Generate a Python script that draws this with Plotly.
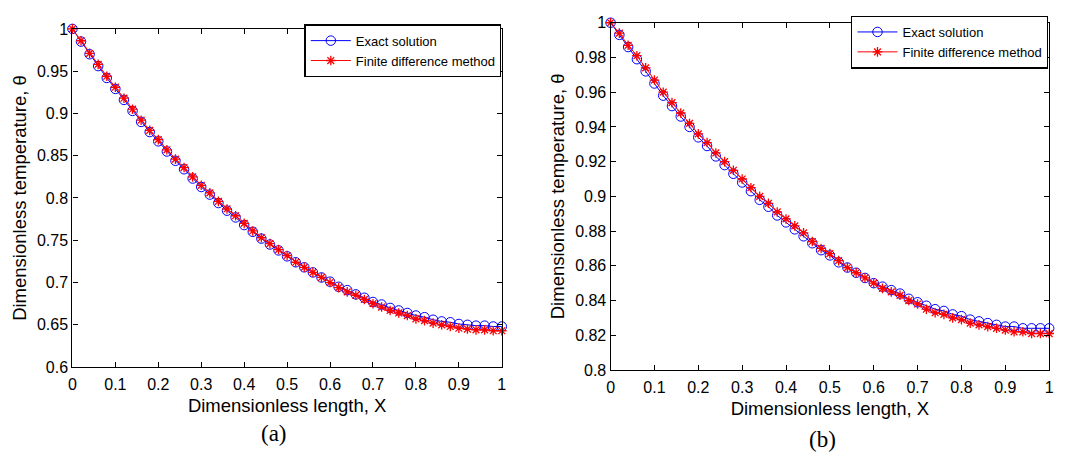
import plotly.graph_objects as go

# ---------------- data ----------------
x_vals = [round(i * 0.02, 2) for i in range(51)]

exact_a = [1.000, 0.985, 0.970, 0.956, 0.942, 0.929, 0.916, 0.903, 0.890, 0.878,
           0.867, 0.855, 0.844, 0.834, 0.823, 0.813, 0.804, 0.794, 0.785, 0.777,
           0.768, 0.760, 0.752, 0.745, 0.738, 0.731, 0.724, 0.718, 0.712, 0.706,
           0.701, 0.695, 0.691, 0.686, 0.682, 0.677, 0.674, 0.670, 0.667, 0.664,
           0.661, 0.659, 0.656, 0.654, 0.653, 0.651, 0.650, 0.649, 0.649, 0.648,
           0.648]
fdm_a = [1.000, 0.986, 0.971, 0.958, 0.944, 0.931, 0.918, 0.905, 0.892, 0.880,
         0.869, 0.857, 0.846, 0.836, 0.825, 0.815, 0.806, 0.796, 0.787, 0.779,
         0.770, 0.761, 0.753, 0.746, 0.739, 0.732, 0.724, 0.718, 0.712, 0.706,
         0.700, 0.694, 0.689, 0.685, 0.680, 0.675, 0.671, 0.667, 0.664, 0.661,
         0.657, 0.655, 0.652, 0.650, 0.648, 0.646, 0.645, 0.644, 0.644, 0.643,
         0.643]

exact_b = [1.000, 0.993, 0.986, 0.979, 0.972, 0.965, 0.958, 0.952, 0.946, 0.940,
           0.934, 0.929, 0.923, 0.918, 0.913, 0.908, 0.903, 0.898, 0.894, 0.889,
           0.885, 0.881, 0.877, 0.873, 0.869, 0.866, 0.862, 0.859, 0.856, 0.853,
           0.850, 0.848, 0.846, 0.844, 0.841, 0.839, 0.837, 0.835, 0.834, 0.832,
           0.831, 0.829, 0.828, 0.827, 0.826, 0.825, 0.825, 0.824, 0.824, 0.824,
           0.824]
fdm_b = [1.000, 0.994, 0.987, 0.981, 0.974, 0.967, 0.960, 0.954, 0.948, 0.942,
         0.936, 0.931, 0.925, 0.920, 0.915, 0.910, 0.905, 0.900, 0.896, 0.891,
         0.887, 0.883, 0.879, 0.874, 0.870, 0.867, 0.863, 0.859, 0.856, 0.853,
         0.850, 0.847, 0.845, 0.843, 0.840, 0.838, 0.835, 0.833, 0.832, 0.830,
         0.829, 0.827, 0.826, 0.825, 0.824, 0.823, 0.822, 0.822, 0.821, 0.821,
         0.821]

x_ticks = [0, 0.1, 0.2, 0.3, 0.4, 0.5, 0.6, 0.7, 0.8, 0.9, 1]
x_ticktext = ["0", "0.1", "0.2", "0.3", "0.4", "0.5", "0.6", "0.7", "0.8", "0.9", "1"]
ya_ticks = [0.6, 0.65, 0.7, 0.75, 0.8, 0.85, 0.9, 0.95, 1.0]
ya_ticktext = ["0.6", "0.65", "0.7", "0.75", "0.8", "0.85", "0.9", "0.95", "1"]
yb_ticks = [0.8, 0.82, 0.84, 0.86, 0.88, 0.9, 0.92, 0.94, 0.96, 0.98, 1.0]
yb_ticktext = ["0.8", "0.82", "0.84", "0.86", "0.88", "0.9", "0.92", "0.94", "0.96", "0.98", "1"]

name_exact = "Exact solution"
name_fdm = "Finite difference method"
x_title = "Dimensionless length, X"
y_title = "Dimensionless temperature, θ"

# ---------------- figure ----------------
W, H = 1075, 456
SANS = "Liberation Sans, Arial, sans-serif"
SERIF = "Liberation Serif, Times New Roman, serif"

fig = go.Figure()

def add_pair(xa, ya, ex, fd, legend):
    fig.add_trace(go.Scatter(
        x=x_vals, y=ex, name=name_exact, mode="lines+markers",
        xaxis=xa, yaxis=ya, legend=legend, cliponaxis=False,
        line=dict(color="#0000ff", width=1),
        marker=dict(symbol="circle-open", size=9.5, color="#0000ff",
                    line=dict(color="#0000ff", width=1))))
    fig.add_trace(go.Scatter(
        x=x_vals, y=fd, name=name_fdm, mode="lines+markers",
        xaxis=xa, yaxis=ya, legend=legend, cliponaxis=False,
        line=dict(color="#ff0000", width=1),
        marker=dict(symbol="asterisk-open", size=8, color="#ff0000",
                    line=dict(color="#ff0000", width=1.3))))

add_pair("x", "y", exact_a, fdm_a, "legend")
add_pair("x2", "y2", exact_b, fdm_b, "legend2")

axis_common = dict(
    showline=True, linecolor="black", linewidth=1.2, mirror="ticks",
    ticks="inside", ticklen=5, tickwidth=1, tickcolor="black",
    showgrid=False, zeroline=False,
    tickfont=dict(family=SANS, size=16, color="black"),
)
title_font = dict(family=SANS, size=18.5, color="black")

def px_x(v):
    return v / W

def px_y(v):
    return 1 - v / H

legend_common = dict(
    xanchor="right", yanchor="top", bgcolor="white",
    bordercolor="black", borderwidth=1.3, itemwidth=40,
    font=dict(family=SANS, size=13, color="black"), tracegroupgap=0,
)

fig.update_layout(
    width=W, height=H,
    margin=dict(l=0, r=0, t=0, b=0),
    paper_bgcolor="white", plot_bgcolor="white",
    showlegend=True,
    xaxis=dict(domain=[px_x(69), px_x(502)], range=[0, 1], anchor="y",
               tickvals=x_ticks, ticktext=x_ticktext, ticklabelstandoff=3,
               title=dict(text=x_title, standoff=6, font=title_font),
               **axis_common),
    yaxis=dict(domain=[px_y(373), px_y(21.7)], range=[0.6, 1], anchor="x",
               tickvals=ya_ticks, ticktext=ya_ticktext,
               title=dict(text=y_title, standoff=5, font=title_font),
               **axis_common),
    xaxis2=dict(domain=[px_x(611.7), px_x(1054)], range=[0, 1], anchor="y2",
                tickvals=x_ticks, ticktext=x_ticktext, ticklabelstandoff=3,
                title=dict(text=x_title, standoff=6, font=title_font),
                **axis_common),
    yaxis2=dict(domain=[px_y(376), px_y(15.3)], range=[0.8, 1], anchor="x2",
                tickvals=yb_ticks, ticktext=yb_ticktext,
                title=dict(text=y_title, standoff=5, font=title_font),
                **axis_common),
    legend=dict(x=px_x(501.7), y=px_y(17), **legend_common),
    legend2=dict(x=px_x(1053), y=px_y(8), **legend_common),
    annotations=[
        dict(text="(a)", x=px_x(272), y=px_y(442), xref="paper", yref="paper",
             xanchor="center", yanchor="middle", showarrow=False,
             font=dict(family=SERIF, size=23, color="black")),
        dict(text="(b)", x=px_x(825), y=px_y(448), xref="paper", yref="paper",
             xanchor="center", yanchor="middle", showarrow=False,
             font=dict(family=SERIF, size=23, color="black")),
    ],
)

fig.write_html("out.html")
